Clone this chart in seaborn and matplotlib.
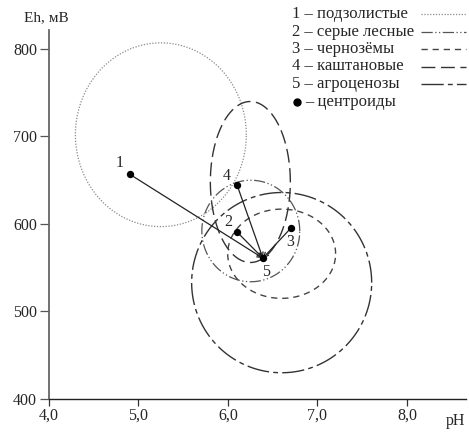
import numpy as np
import pandas as pd
import matplotlib
matplotlib.use("Agg")
import matplotlib.pyplot as plt
import seaborn as sns

# ---- data ----
groups = ["подзолистые", "серые лесные", "чернозёмы", "каштановые", "агроценозы"]
group_num = ["1", "2", "3", "4", "5"]
# centroids
centroid_ph = [4.90, 6.10, 6.70, 6.10, 6.39]
centroid_eh = [657, 591, 595, 645, 561]
# scatter ellipses: centre and half-axes
ell_ph = [5.25, 6.255, 6.60, 6.25, 6.60]
ell_eh = [702, 592, 566, 648, 533]
ell_rph = [0.955, 0.547, 0.603, 0.447, 1.006]
ell_reh = [105, 58, 51, 92, 103]

x_ticks = [4.0, 5.0, 6.0, 7.0, 8.0]
x_ticklabels = ["4,0", "5,0", "6,0", "7,0", "8,0"]
y_ticks = [400, 500, 600, 700, 800]

# ---- styles ----
styles = [
    dict(color="#8a8a8a", lw=0.9, ls=(0, (1.0, 1.3))),
    dict(color="#555555", lw=0.9, ls=(0, (9, 2, 1, 2, 1, 2))),
    dict(color="#444444", lw=1.0, ls=(0, (4.5, 3.5))),
    dict(color="#333333", lw=1.0, ls=(0, (10, 4))),
    dict(color="#333333", lw=1.0, ls=(0, (16, 3, 3.5, 3))),
]

sns.set_style("ticks")
plt.rcParams["font.family"] = ["Liberation Serif", "DejaVu Sans"]
plt.rcParams["font.size"] = 11.5

W, H = 469, 433
fig = plt.figure(figsize=(W / 100, H / 100), dpi=100)
ax = fig.add_axes([49 / W, 34 / H, (466 - 49) / W, (399 - 30) / H])

t = np.linspace(0, 2 * np.pi, 400)
for i in range(5):
    df = pd.DataFrame({
        "pH": ell_ph[i] + ell_rph[i] * np.cos(t),
        "Eh": ell_eh[i] + ell_reh[i] * np.sin(t),
    })
    ax.plot(df["pH"], df["Eh"], color=styles[i]["color"], lw=styles[i]["lw"],
            linestyle=styles[i]["ls"])

# arrows from centroids to agrocenoses centroid
for i in range(4):
    ax.annotate("", xy=(centroid_ph[4], centroid_eh[4]),
                xytext=(centroid_ph[i], centroid_eh[i]),
                arrowprops=dict(arrowstyle="->", color="#222222", lw=0.9,
                                mutation_scale=8, shrinkA=0, shrinkB=0))

cdf = pd.DataFrame({"pH": centroid_ph, "Eh": centroid_eh, "g": group_num})
sns.scatterplot(data=cdf, x="pH", y="Eh", ax=ax, color="black", s=28,
                edgecolor="black", linewidth=0, zorder=5, legend=False)

offsets = {"1": (-7, 8), "2": (-6, 7), "3": (0, -10), "4": (-7, 6), "5": (2, -10)}
for p, e, g in zip(centroid_ph, centroid_eh, group_num):
    dx, dy = offsets[g]
    ax.annotate(g, (p, e), xytext=(dx, dy), textcoords="offset points",
                ha="center", va="center", fontsize=11.5)

ax.set_xlim(4.0, 8.66)
ax.set_ylim(400, 821.7)
ax.set_xticks(x_ticks)
ax.set_xticklabels(x_ticklabels)
ax.set_yticks(y_ticks)
ax.set_xlabel("")
ax.set_ylabel("")
ax.tick_params(axis="y", direction="out", length=6.5, width=0.9, color="#555555", pad=2)
ax.tick_params(axis="x", direction="out", length=5, width=0.9, color="#333333", pad=1)
for s in ["top", "right"]:
    ax.spines[s].set_visible(False)
ax.spines["left"].set_color("#666666")
ax.spines["left"].set_linewidth(1.3)
ax.spines["bottom"].set_color("#222222")
ax.spines["bottom"].set_linewidth(1.0)

fig.text(24 / W, 1 - 18 / H, "Eh, мВ", ha="left", va="center", fontsize=11)
fig.text(446 / W, 1 - 421 / H, "pH", ha="left", va="center", fontsize=11.5)

# legend (text left, line sample right)
leg_x_text = 292 / W
leg_line_x0, leg_line_x1 = 421 / W, 466 / W
row_y = [14, 31.5, 49, 66.5, 84, 101.5]
for i in range(5):
    y = 1 - row_y[i] / H
    fig.text(leg_x_text, y, f"{group_num[i]} – {groups[i]}", ha="left", va="center",
             fontsize=12)
    fig.add_artist(plt.Line2D([leg_line_x0, leg_line_x1], [y, y],
                              transform=fig.transFigure, color=styles[i]["color"],
                              lw=styles[i]["lw"], linestyle=styles[i]["ls"]))
y = 1 - row_y[5] / H
fig.add_artist(plt.Line2D([297 / W], [y], transform=fig.transFigure, marker="o",
                          color="black", markersize=5, linestyle="none"))
fig.text(305 / W, y, "– центроиды", ha="left", va="center", fontsize=12)

fig.savefig("out.png", dpi=100)
